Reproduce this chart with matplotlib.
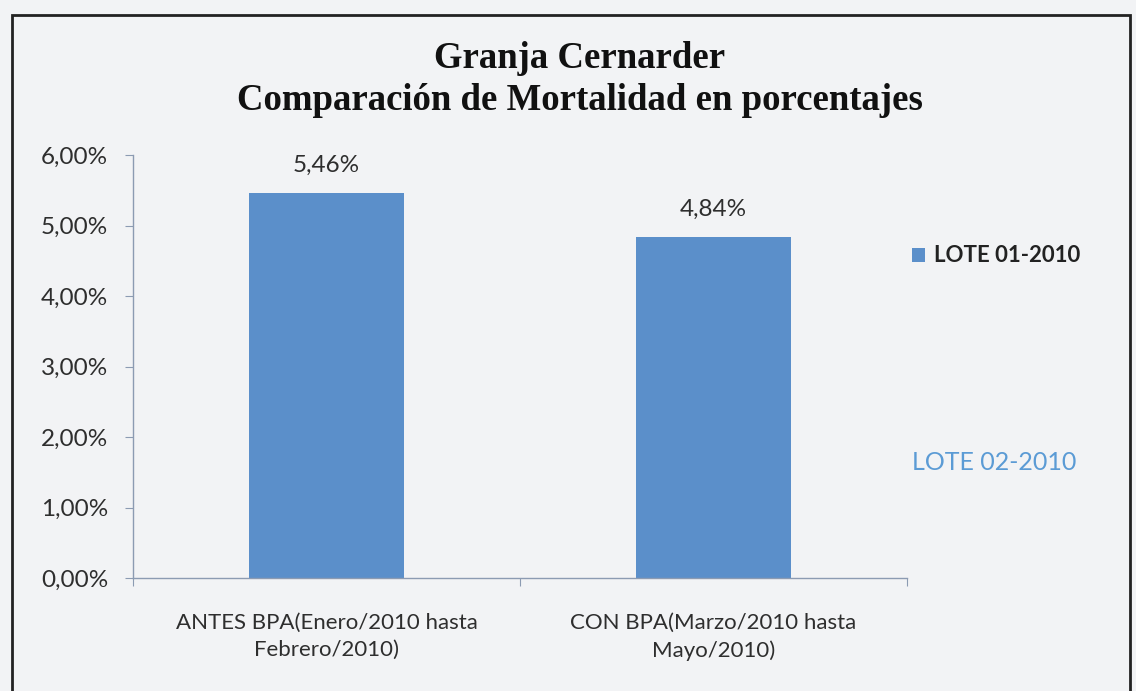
import matplotlib.pyplot as plt
from matplotlib.patches import Rectangle
from matplotlib.ticker import FuncFormatter

# values
categories = ["ANTES BPA(Enero/2010 hasta\nFebrero/2010)",
              "CON BPA(Marzo/2010 hasta\nMayo/2010)"]
mortality = [5.46, 4.84]
series_name = "LOTE 01-2010"
second_label = "LOTE 02-2010"
title_lines = ["Granja Cernarder", "Comparación de Mortalidad en porcentajes"]

bg = "#f2f3f5"
bar_color = "#5b8fca"
axis_color = "#8c9bb2"
text_color = "#2e2e2e"
fs = 16
num_fs = 17.5


def pct(v, _pos=None):
    return f"{v:.2f}%".replace(".", ",")


fig = plt.figure(figsize=(11.36, 6.91), dpi=100, facecolor=bg)

# outer frame of the chart area (bottom edge is cut off in the scan)
fig.add_artist(Rectangle((12 / 1136, -0.05), (1130 - 12) / 1136, 1.05 - 15 / 691,
                         transform=fig.transFigure, fill=False,
                         edgecolor="#222222", linewidth=2))

ax = fig.add_axes([133 / 1136, 113 / 691, 774 / 1136, 423 / 691])
ax.set_facecolor(bg)

x = range(len(categories))
bars = ax.bar(x, mortality, width=0.40, color=bar_color, label=series_name, zorder=2)

for b, v in zip(bars, mortality):
    ax.annotate(pct(v), (b.get_x() + b.get_width() / 2, v), xytext=(0, 20),
                textcoords="offset points", ha="center", va="center",
                fontsize=num_fs, family="Lato", color=text_color)

ax.set_xlim(-0.5, 1.5)
ax.set_ylim(0, 6)
ax.set_yticks([0, 1, 2, 3, 4, 5, 6])
ax.yaxis.set_major_formatter(FuncFormatter(pct))
ax.set_xticks([-0.5, 0.5, 1.5])
ax.set_xticklabels([])
ax.set_xticks(list(x), minor=True)
ax.set_xticklabels(categories, minor=True, fontsize=fs, family="Lato",
                   color=text_color, linespacing=1.45)
ax.tick_params(axis="x", which="minor", length=0, pad=25)
ax.tick_params(axis="x", which="major", length=6, color=axis_color, direction="out")
ax.tick_params(axis="y", length=6, color=axis_color, direction="out",
               labelsize=num_fs, labelcolor=text_color, pad=12)
for lab in ax.get_yticklabels():
    lab.set_family("Lato")

for side in ["top", "right"]:
    ax.spines[side].set_visible(False)
for side in ["left", "bottom"]:
    ax.spines[side].set_color(axis_color)
    ax.spines[side].set_linewidth(1)

fig.text(580 / 1136, 1 - 58 / 691, title_lines[0], ha="center", va="center",
         fontsize=26.5, fontweight="bold", family="Liberation Serif", color="#111111")
fig.text(580 / 1136, 1 - 100 / 691, title_lines[1], ha="center", va="center",
         fontsize=26.5, fontweight="bold", family="Liberation Serif", color="#111111")

leg = fig.legend(handles=[bars], labels=[series_name], loc="center left",
                 bbox_to_anchor=(892 / 1136, 1 - 256 / 691), frameon=False,
                 handlelength=0.6, handleheight=0.6, handletextpad=0.4,
                 prop={"family": "Lato", "weight": "bold", "size": fs})
for t in leg.get_texts():
    t.set_color("#222222")

fig.text(912 / 1136, 1 - 462 / 691, second_label, ha="left", va="center",
         fontsize=18, family="Lato", color="#5b9bd5")

fig.savefig("out.png", dpi=100, facecolor=bg)
